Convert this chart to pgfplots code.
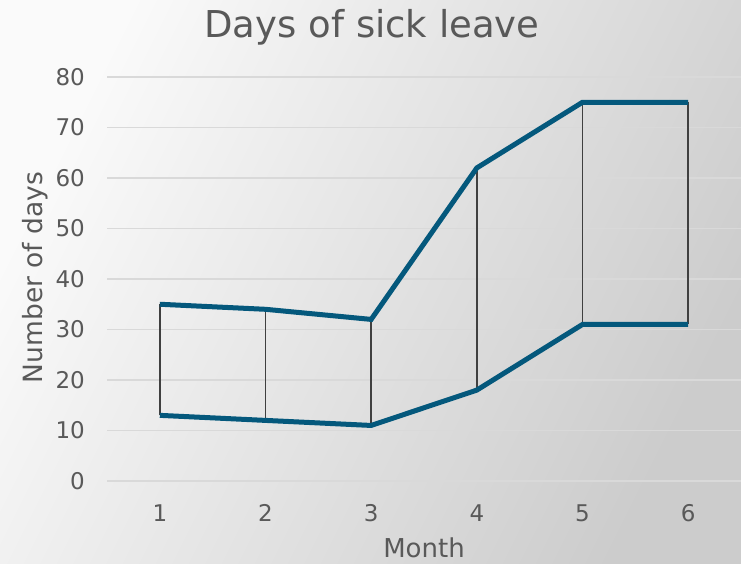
\documentclass[border=0pt]{standalone}
\usepackage{pgfplots}
\pgfplotsset{compat=1.18}
\usepackage{fontspec}
\setmainfont{DejaVu Sans}
\definecolor{linecol}{RGB}{4,88,124}
\definecolor{txt}{RGB}{89,89,89}
\definecolor{gridc}{RGB}{217,217,217}
\definecolor{bgtop}{RGB}{250,250,250}
\definecolor{bgmid}{RGB}{232,232,232}
\definecolor{bgbot}{RGB}{204,204,204}
\definecolor{hlcol}{RGB}{64,64,64}
\begin{document}
\begin{tikzpicture}[x=1pt,y=1pt]
\shade[top color=bgtop, middle color=bgmid, bottom color=bgbot, shading angle=63.4] (0,0) rectangle (741,563);
\useasboundingbox (0,0) rectangle (741,563);
\begin{axis}[
  at={(107pt,82pt)}, anchor=south west,
  scale only axis, width=634pt, height=404pt,
  xmin=0.5, xmax=6.5, ymin=0, ymax=80,
  xtick={1,2,3,4,5,6}, ytick={0,10,20,30,40,50,60,70,80},
  ymajorgrids, grid style={gridc, line width=1.5pt},
  axis line style={draw=none}, major tick length=0pt,
  tick label style={font=\fontsize{23}{26}\selectfont, text=txt},
  /pgf/number format/assume math mode=true,
  xticklabel style={anchor=base, yshift=-40pt},
  yticklabel style={anchor=east, inner sep=0pt, xshift=-22pt},
  clip=false,
]
\addplot[hlcol, line width=1.6pt] coordinates {(1,13) (1,35)};
\addplot[hlcol, line width=1.6pt] coordinates {(2,12) (2,34)};
\addplot[hlcol, line width=1.6pt] coordinates {(3,11) (3,32)};
\addplot[hlcol, line width=1.6pt] coordinates {(4,18) (4,62)};
\addplot[hlcol, line width=1.6pt] coordinates {(5,31) (5,75)};
\addplot[hlcol, line width=1.6pt] coordinates {(6,31) (6,75)};
\addplot[linecol, line width=5pt] coordinates {(1,35) (2,34) (3,32) (4,62) (5,75) (6,75)};
\addplot[linecol, line width=5pt] coordinates {(1,13) (2,12) (3,11) (4,18) (5,31) (6,31)};
\end{axis}
\node[anchor=base, text=txt, font=\fontsize{37}{40}\selectfont, inner sep=0pt] at (372,525) {Days of sick leave};
\node[anchor=base, text=txt, font=\fontsize{26}{30}\selectfont, inner sep=0pt] at (424,5.5) {Month};
\node[anchor=base, rotate=90, text=txt, font=\fontsize{26.5}{30}\selectfont, inner sep=0pt] at (42,285.5) {Number of days};
\end{tikzpicture}
\end{document}
